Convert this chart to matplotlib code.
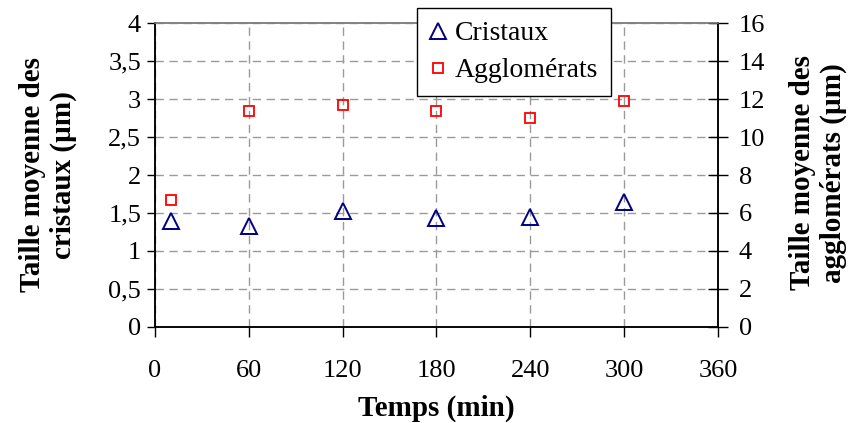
import matplotlib
matplotlib.use('Agg')
import matplotlib.pyplot as plt
from matplotlib.ticker import FuncFormatter

# ── data ────────────────────────────────────────────────────────────────────
TEMPS       = [10, 60, 120, 180, 240, 300]          # min
CRISTAUX    = [1.40, 1.33, 1.53, 1.43, 1.45, 1.65]  # µm, left axis
AGGLOMERATS = [6.7, 11.4, 11.7, 11.4, 11.0, 11.9]   # µm, right axis

X_TICKS  = [0, 60, 120, 180, 240, 300, 360]
YL_TICKS = [0, 0.5, 1, 1.5, 2, 2.5, 3, 3.5, 4]
YR_TICKS = [0, 2, 4, 6, 8, 10, 12, 14, 16]

plt.rcParams['font.family'] = ['Liberation Serif', 'DejaVu Serif']

W, H = 854, 423
fig = plt.figure(figsize=(W / 100, H / 100), dpi=100)
ax = fig.add_axes([155 / W, 1 - 326.7 / H, (718 - 155) / W, (326.7 - 23.3) / H])
ax2 = ax.twinx()

comma = FuncFormatter(lambda v, _: f'{v:g}'.replace('.', ','))

# left axis
ax.set_xlim(0, 360)
ax.set_ylim(0, 4)
ax.set_xticks(X_TICKS)
ax.set_yticks(YL_TICKS)
ax.yaxis.set_major_formatter(comma)
ax.tick_params(axis='y', direction='out', length=6, width=1, pad=4,
               labelsize=19, colors='black')
ax.tick_params(axis='x', direction='out', length=7, width=1, pad=17,
               labelsize=19)
ax.grid(True, color='#9a9a9a', linestyle=(0, (6, 4)), linewidth=1)
ax.set_axisbelow(True)

# right axis
ax2.set_ylim(0, 16)
ax2.set_yticks(YR_TICKS)
ax2.tick_params(axis='y', direction='inout', length=14, width=1, pad=8,
                labelsize=19)

for a in (ax, ax2):
    for side in ('left', 'right', 'bottom'):
        a.spines[side].set_color('black')
        a.spines[side].set_linewidth(1.1)
    a.spines['top'].set_color('#808080')
    a.spines['top'].set_linewidth(1.1)

h1, = ax.plot(TEMPS, CRISTAUX, linestyle='none', marker='^', markersize=11,
              markerfacecolor='none', markeredgecolor='#000080',
              markeredgewidth=1.4, label='Cristaux', clip_on=False)
h2, = ax2.plot(TEMPS, AGGLOMERATS, linestyle='none', marker='s', markersize=6.5,
               markerfacecolor='none', markeredgecolor='#ff0000',
               markeredgewidth=1.3, label='Agglomérats', clip_on=False)

leg = ax2.legend([h1, h2], ['Cristaux', 'Agglomérats'],
                 loc='upper left', bbox_to_anchor=(416.7 / W, 1 - 8.3 / H),
                 bbox_transform=fig.transFigure, borderaxespad=0,
                 fontsize=20, numpoints=1, handlelength=0.6,
                 handletextpad=0.32, borderpad=0.45, labelspacing=0.42,
                 frameon=True, fancybox=False, framealpha=1.0,
                 edgecolor='black')
leg.get_frame().set_linewidth(1.0)

# axis titles
ax.set_xlabel('Temps (min)', fontsize=21, fontweight='bold', labelpad=9)
fig.text(48 / W, 1 - 175 / H, 'Taille moyenne des\ncristaux (µm)',
         rotation=90, ha='center', va='center', multialignment='center',
         fontsize=21, fontweight='bold', linespacing=1.2)
fig.text(818 / W, 1 - 173 / H, 'Taille moyenne des\nagglomérats (µm)',
         rotation=90, ha='center', va='center', multialignment='center',
         fontsize=21, fontweight='bold', linespacing=1.2)

fig.savefig('out.png', dpi=100)
